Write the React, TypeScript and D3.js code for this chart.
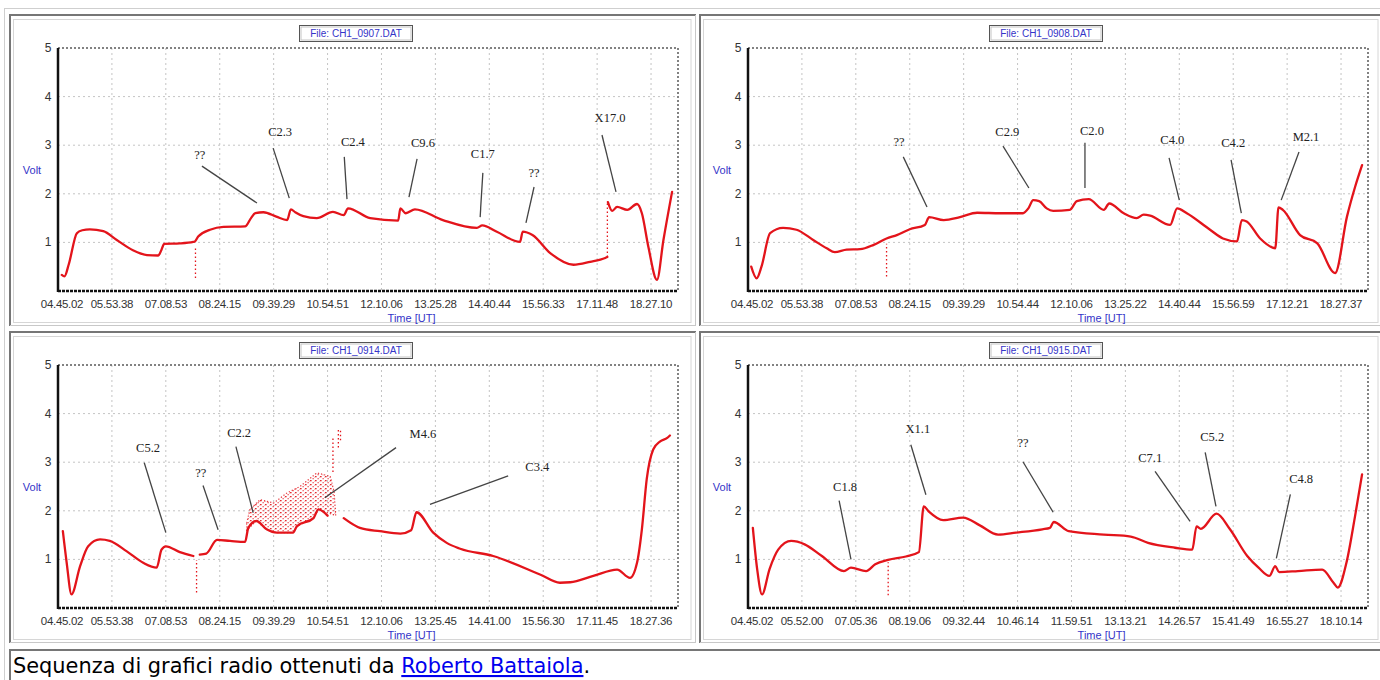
import React from 'react';
import * as d3 from 'd3';

type Pt = [number, number];
type Drop = [number, number, number];
type Note = { label: string; tx: number; ty: number; from: Pt; to: Pt };

const W = 1380;
const H = 680;
const GAP = NaN;

const files = ['CH1_0907.DAT', 'CH1_0908.DAT', 'CH1_0914.DAT', 'CH1_0915.DAT'];

// Time labels of the 12 x ticks, one list per recording
const ticks0907 = ['04.45.02', '05.53.38', '07.08.53', '08.24.15', '09.39.29', '10.54.51', '12.10.06', '13.25.28', '14.40.44', '15.56.33', '17.11.48', '18.27.10'];
const ticks0908 = ['04.45.02', '05.53.38', '07.08.53', '08.24.15', '09.39.29', '10.54.44', '12.10.06', '13.25.22', '14.40.44', '15.56.59', '17.12.21', '18.27.37'];
const ticks0914 = ['04.45.02', '05.53.38', '07.08.53', '08.24.15', '09.39.29', '10.54.51', '12.10.06', '13.25.45', '14.41.00', '15.56.30', '17.11.45', '18.27.36'];
const ticks0915 = ['04.45.02', '05.52.00', '07.05.36', '08.19.06', '09.32.44', '10.46.14', '11.59.51', '13.13.21', '14.26.57', '15.41.49', '16.55.27', '18.10.14'];

// Signal: [tick position, volt]; NaN volt = break in the trace
const volt0907: Pt[] = [
  [0.07, 0.33], [0.12, 0.3], [0.2, 0.55], [0.35, 1.19], [0.45, 1.25], [0.59, 1.27], [0.84, 1.23], [1.09, 1.05],
  [1.39, 0.84], [1.65, 0.74], [1.86, 0.73], [1.92, 0.85], [1.97, 0.97], [2.26, 0.98], [2.51, 1.01], [2.54, 1.02],
  [2.6, 1.12], [2.82, 1.26], [3.07, 1.32], [3.47, 1.33], [3.58, 1.5], [3.66, 1.6], [3.81, 1.62], [4.05, 1.53],
  [4.25, 1.46], [4.32, 1.68], [4.4, 1.62], [4.55, 1.54], [4.8, 1.5], [5.1, 1.63], [5.3, 1.56], [5.38, 1.7],
  [5.79, 1.5], [6.31, 1.45], [6.35, 1.7], [6.45, 1.6], [6.62, 1.68], [7.14, 1.46], [7.77, 1.3], [7.87, 1.35],
  [8.14, 1.22], [8.57, 1.01], [8.62, 1.22], [8.8, 1.15], [9.13, 0.78], [9.56, 0.54], [9.87, 0.6], [10.15, 0.68],
  [10.19, 0.7], [10.19, GAP], [10.2, 1.83], [10.28, 1.65], [10.37, 1.73], [10.56, 1.67], [10.74, 1.79], [10.83, 1.6],
  [10.95, 0.91], [11.11, 0.23], [11.23, 1.05], [11.39, 2.04],
];
const volt0908: Pt[] = [
  [0.06, 0.5], [0.16, 0.26], [0.25, 0.5], [0.41, 1.19], [0.65, 1.3], [0.9, 1.26], [1.21, 1.05], [1.46, 0.88],
  [1.61, 0.8], [1.83, 0.85], [2.08, 0.86], [2.33, 0.95], [2.57, 1.08], [2.76, 1.15], [3.0, 1.27], [3.28, 1.36],
  [3.36, 1.52], [3.63, 1.46], [3.93, 1.52], [4.25, 1.61], [4.68, 1.6], [5.1, 1.6], [5.2, 1.7], [5.29, 1.87],
  [5.4, 1.85], [5.54, 1.7], [5.66, 1.65], [5.97, 1.67], [6.1, 1.85], [6.32, 1.89], [6.6, 1.67], [6.7, 1.8],
  [6.97, 1.6], [7.21, 1.5], [7.34, 1.57], [7.46, 1.55], [7.83, 1.36], [7.96, 1.7], [8.14, 1.6], [8.57, 1.26],
  [8.81, 1.08], [9.07, 1.02], [9.16, 1.46], [9.25, 1.43], [9.5, 1.08], [9.78, 0.88], [9.84, 1.72], [9.92, 1.67],
  [10.24, 1.15], [10.56, 0.98], [10.89, 0.37], [11.11, 1.53], [11.26, 2.14], [11.39, 2.59],
];
const volt0914: Pt[] = [
  [0.09, 1.58], [0.16, 0.94], [0.25, 0.28], [0.41, 0.86], [0.56, 1.27], [0.78, 1.41], [0.96, 1.38], [1.27, 1.17],
  [1.58, 0.93], [1.83, 0.83], [1.92, 1.2], [2.0, 1.27], [2.26, 1.15], [2.51, 1.07], [2.55, GAP], [2.63, 1.1],
  [2.75, 1.12], [2.95, 1.4], [3.19, 1.38], [3.47, 1.36], [3.53, 1.65], [3.68, 1.79], [3.87, 1.62], [4.06, 1.55],
  [4.36, 1.55], [4.43, 1.68], [4.74, 1.85], [4.83, 2.03], [5.0, 1.9], [5.1, GAP], [5.3, 1.85], [5.6, 1.65],
  [5.97, 1.58], [6.35, 1.53], [6.55, 1.6], [6.65, 1.97], [6.96, 1.55], [7.21, 1.34], [7.46, 1.22], [8.07, 1.07],
  [8.94, 0.69], [9.31, 0.52], [9.5, 0.53], [9.93, 0.66], [10.37, 0.79], [10.61, 0.62], [10.74, 0.93], [10.83, 1.62],
  [10.92, 2.65], [11.04, 3.26], [11.17, 3.43], [11.3, 3.5], [11.35, 3.55],
];
const volt0915: Pt[] = [
  [0.09, 1.65], [0.17, 0.8], [0.26, 0.28], [0.4, 0.8], [0.56, 1.2], [0.8, 1.38], [1.05, 1.31], [1.37, 1.07],
  [1.78, 0.76], [1.91, 0.83], [2.19, 0.76], [2.36, 0.9], [2.6, 0.99], [2.93, 1.06], [3.17, 1.15], [3.26, 2.09],
  [3.35, 1.99], [3.62, 1.81], [3.99, 1.86], [4.3, 1.7], [4.64, 1.51], [4.97, 1.55], [5.46, 1.62], [5.6, 1.65],
  [5.67, 1.77], [5.95, 1.58], [6.6, 1.51], [7.1, 1.47], [7.42, 1.34], [7.92, 1.24], [8.24, 1.2], [8.32, 1.68],
  [8.4, 1.63], [8.69, 1.94], [8.94, 1.62], [9.26, 1.07], [9.47, 0.83], [9.67, 0.66], [9.78, 0.86], [9.85, 0.74],
  [10.2, 0.76], [10.65, 0.79], [10.86, 0.52], [10.94, 0.42], [11.1, 0.93], [11.26, 1.89], [11.39, 2.75],
];

// Dotted dropouts / spikes: [tick position, volt from, volt to]
const drops0907: Drop[] = [[2.55, 0.27, 0.9], [10.19, 0.7, 1.83]];
const drops0908: Drop[] = [[2.57, 0.3, 0.97]];
const drops0914: Drop[] = [[2.57, 0.32, 0.99], [5.1, 2.8, 3.5], [5.2, 3.3, 3.7], [5.24, 3.45, 3.65]];
const drops0915: Drop[] = [[2.6, 0.26, 0.94]];

// Noisy band of 0914 (M4.6 region)
const noiseTop0914: Pt[] = [[3.5, 1.75], [3.56, 2.03], [3.75, 2.23], [4.0, 2.16], [4.25, 2.37], [4.49, 2.5], [4.8, 2.78], [5.05, 2.71], [5.12, 2.4], [5.15, 1.95]];
const noiseBottom0914: Pt[] = [[3.5, 1.6], [3.68, 1.79], [3.87, 1.62], [4.06, 1.55], [4.36, 1.55], [4.43, 1.68], [4.74, 1.85], [4.83, 2.03], [5.15, 1.9]];

const notes0907: Note[] = [
  { label: '??', tx: 2.63, ty: 2.8, from: [2.67, 2.57], to: [3.69, 1.81] },
  { label: 'C2.3', tx: 4.12, ty: 3.29, from: [3.99, 2.94], to: [4.29, 1.91] },
  { label: 'C2.4', tx: 5.47, ty: 3.07, from: [5.31, 2.76], to: [5.36, 1.89] },
  { label: 'C9.6', tx: 6.77, ty: 3.05, from: [6.66, 2.72], to: [6.51, 1.93] },
  { label: 'C1.7', tx: 7.88, ty: 2.82, from: [7.88, 2.43], to: [7.83, 1.52] },
  { label: '??', tx: 8.83, ty: 2.43, from: [8.83, 2.14], to: [8.68, 1.4] },
  { label: 'X17.0', tx: 10.24, ty: 3.56, from: [10.09, 3.21], to: [10.35, 2.04] },
];
const notes0908: Note[] = [
  { label: '??', tx: 2.8, ty: 3.07, from: [2.88, 2.76], to: [3.32, 1.73] },
  { label: 'C2.9', tx: 4.81, ty: 3.29, from: [4.73, 2.98], to: [5.21, 2.12] },
  { label: 'C2.0', tx: 6.38, ty: 3.31, from: [6.25, 3.05], to: [6.25, 2.12] },
  { label: 'C4.0', tx: 7.87, ty: 3.11, from: [7.81, 2.74], to: [8.0, 1.87] },
  { label: 'C4.2', tx: 9.0, ty: 3.05, from: [8.96, 2.7], to: [9.15, 1.6] },
  { label: 'M2.1', tx: 10.35, ty: 3.17, from: [10.22, 2.86], to: [9.89, 1.87] },
];
const notes0914: Note[] = [
  { label: 'C5.2', tx: 1.67, ty: 3.3, from: [1.6, 2.99], to: [2.0, 1.55] },
  { label: '??', tx: 2.65, ty: 2.79, from: [2.69, 2.52], to: [2.97, 1.61] },
  { label: 'C2.2', tx: 3.36, ty: 3.61, from: [3.3, 3.32], to: [3.62, 1.96] },
  { label: 'M4.6', tx: 6.77, ty: 3.59, from: [6.27, 3.3], to: [4.95, 2.27] },
  { label: 'C3.4', tx: 8.89, ty: 2.91, from: [8.35, 2.72], to: [6.9, 2.13] },
];
const notes0915: Note[] = [
  { label: 'C1.8', tx: 1.8, ty: 2.5, from: [1.69, 2.21], to: [1.91, 1.0] },
  { label: 'X1.1', tx: 3.15, ty: 3.69, from: [3.02, 3.36], to: [3.3, 2.33] },
  { label: '??', tx: 5.1, ty: 3.4, from: [5.1, 3.01], to: [5.66, 1.97] },
  { label: 'C7.1', tx: 7.46, ty: 3.09, from: [7.55, 2.81], to: [8.2, 1.78] },
  { label: 'C5.2', tx: 8.61, ty: 3.53, from: [8.48, 3.2], to: [8.68, 2.09] },
  { label: 'C4.8', tx: 10.26, ty: 2.66, from: [10.06, 2.34], to: [9.8, 1.02] },
];

const voltTicks = [1, 2, 3, 4, 5];
const RED = '#e3141b';
const BLUE = '#3434c8';
const SANS = '"Liberation Sans", Arial, sans-serif';

type PanelProps = {
  dx: number; dy: number; right: number; file: string; ticks: string[];
  volts: Pt[]; drops: Drop[]; notes: Note[]; noiseTop?: Pt[]; noiseBottom?: Pt[];
};

function Panel({ dx, dy, right, file, ticks, volts, drops, notes, noiseTop, noiseBottom }: PanelProps) {
  const x = d3.scaleLinear().domain([0, 11.5]).range([58 + dx, 678 + dx]);
  const y = d3.scaleLinear().domain([0, 5]).range([291 + dy, 48 + dy]);
  const line = d3.line<Pt>().defined(d => !isNaN(d[1])).x(d => x(d[0])).y(d => y(d[1]));
  const smooth = d3.line<Pt>().defined(d => !isNaN(d[1])).x(d => x(d[0])).y(d => y(d[1])).curve(d3.curveMonotoneX);
  const x0 = x(0), x1 = x(11.5), y0 = y(0), y1 = y(5);
  const band = noiseTop && noiseBottom
    ? line(noiseTop.concat(noiseBottom.slice().reverse())) + 'Z'
    : null;
  const cx = x(5.5);

  return (
    <g>
      {/* cell border + image frame */}
      <rect x={13.5 + dx} y={19.5 + dy} width={right - 13 - dx} height={303} fill="#fff" stroke="#d6d6d6" />
      <line x1={9 + dx} x2={Math.min(696 + dx, W)} y1={15 + dy} y2={15 + dy} stroke="#767676" strokeWidth={2} />
      <line x1={10 + dx} x2={10 + dx} y1={14 + dy} y2={326 + dy} stroke="#767676" strokeWidth={2} />
      <line x1={10 + dx} x2={Math.min(696 + dx, W)} y1={325.5 + dy} y2={325.5 + dy} stroke="#c8c8c8" />
      {dx + 695.5 < W && <line x1={695.5 + dx} x2={695.5 + dx} y1={15 + dy} y2={326 + dy} stroke="#c8c8c8" />}

      {/* file box */}
      <rect x={299.5 + dx} y={25.5 + dy} width={113} height={16} fill="#fff" stroke="#555" />
      <rect x={301 + dx} y={27 + dy} width={110} height={13} fill="none" stroke="#c4c4c4" />
      <text x={356 + dx} y={37 + dy} textAnchor="middle" fontFamily={SANS} fontSize={10} fill={BLUE}>File: {file}</text>

      {/* grid */}
      {d3.range(1, 12).map(i => (
        <line key={'v' + i} x1={x(i)} x2={x(i)} y1={y1} y2={y0} stroke="#c4c4c4" strokeDasharray="2,3" />
      ))}
      {[1, 2, 3, 4].map(v => (
        <line key={'h' + v} x1={x0} x2={x1} y1={y(v)} y2={y(v)} stroke="#c4c4c4" strokeDasharray="2,3" />
      ))}
      <line x1={x0} x2={x1} y1={y1} y2={y1} stroke="#5a5a5a" strokeWidth={1.5} strokeDasharray="2,2" />
      <line x1={x1} x2={x1} y1={y1} y2={y0} stroke="#5a5a5a" strokeWidth={1.5} strokeDasharray="2,2" />
      <line x1={x0} x2={x1} y1={y0} y2={y0} stroke="#111" strokeWidth={2.5} strokeDasharray="3,1" />
      <line x1={x0} x2={x0} y1={y1} y2={y0 + 1} stroke="#111" strokeWidth={2.5} />

      {/* axis labels */}
      {voltTicks.map(v => (
        <text key={'yl' + v} x={x0 - 10} y={y(v) + 4} textAnchor="middle" fontFamily={SANS} fontSize={12} fill="#333">{v}</text>
      ))}
      {ticks.map((t, i) => (
        <text key={'xl' + i} x={x(i) + (i === 0 ? 4 : 0)} y={y0 + 17} textAnchor="middle" fontFamily={SANS} fontSize={11.5} fill="#333" letterSpacing={-0.3}>{t}</text>
      ))}
      <text x={32 + dx} y={y(2.5) + 4} textAnchor="middle" fontFamily={SANS} fontSize={11} fill={BLUE}>Volt</text>
      <text x={cx + 57} y={y0 + 31} textAnchor="middle" fontFamily={SANS} fontSize={11} fill={BLUE}>Time [UT]</text>

      {/* signal */}
      {band && <path d={band} fill="url(#noise)" stroke={RED} strokeWidth={1.2} strokeDasharray="1.2,2" strokeOpacity={0.85} />}
      {drops.map((d, i) => (
        <line key={'d' + i} x1={x(d[0])} x2={x(d[0])} y1={y(d[1])} y2={y(d[2])} stroke={RED} strokeWidth={1.3} strokeDasharray="1.5,2.5" />
      ))}
      <path d={smooth(volts) || ''} fill="none" stroke={RED} strokeWidth={2.3} strokeLinejoin="round" strokeLinecap="round" />

      {/* flare annotations */}
      {notes.map((n, i) => (
        <g key={'n' + i}>
          <line x1={x(n.from[0])} y1={y(n.from[1])} x2={x(n.to[0])} y2={y(n.to[1])} stroke="#444" strokeWidth={1.3} />
          <text x={x(n.tx)} y={y(n.ty) + 4.5} textAnchor="middle" fontFamily='"Liberation Serif", "Times New Roman", serif' fontSize={12.5} fill="#222">{n.label}</text>
        </g>
      ))}
    </g>
  );
}

export default function App() {
  return (
    <div style={{ position: 'absolute', left: 0, top: 0, width: W, height: H, background: '#fff' }}>
      <svg width={W} height={H} style={{ display: 'block' }}>
        <defs>
          <pattern id="noise" width={5} height={4} patternUnits="userSpaceOnUse">
            <rect x={0} y={0} width={1.6} height={1.3} fill={RED} opacity={0.9} />
            <rect x={2.5} y={2} width={1.3} height={1.3} fill={RED} opacity={0.7} />
            <rect x={4} y={0.8} width={0.8} height={0.8} fill={RED} opacity={0.5} />
          </pattern>
        </defs>
        <rect width={W} height={H} fill="#fff" />
        {/* outer table edge */}
        <line x1={4.5} x2={4.5} y1={8} y2={H} stroke="#cfcfcf" />
        <line x1={4} x2={W} y1={8.5} y2={8.5} stroke="#cfcfcf" />

        <Panel dx={0} dy={0} right={690.5} file={files[0]} ticks={ticks0907} volts={volt0907} drops={drops0907} notes={notes0907} />
        <Panel dx={690} dy={0} right={1377.5} file={files[1]} ticks={ticks0908} volts={volt0908} drops={drops0908} notes={notes0908} />
        <Panel dx={0} dy={317} right={690.5} file={files[2]} ticks={ticks0914} volts={volt0914} drops={drops0914} notes={notes0914}
          noiseTop={noiseTop0914} noiseBottom={noiseBottom0914} />
        <Panel dx={690} dy={317} right={1377.5} file={files[3]} ticks={ticks0915} volts={volt0915} drops={drops0915} notes={notes0915} />

        {/* caption cell */}
        <line x1={9} x2={W} y1={650} y2={650} stroke="#767676" strokeWidth={2} />
        <line x1={10} x2={10} y1={649} y2={H} stroke="#767676" strokeWidth={2} />
        <text x={13} y={673} fontFamily='"DejaVu Sans", Verdana, sans-serif' fontSize={20.9} fill="#000">
          Sequenza di grafici radio ottenuti da{' '}
          <tspan fill="#0000ee" textDecoration="underline">Roberto Battaiola</tspan>.
        </text>
      </svg>
    </div>
  );
}
